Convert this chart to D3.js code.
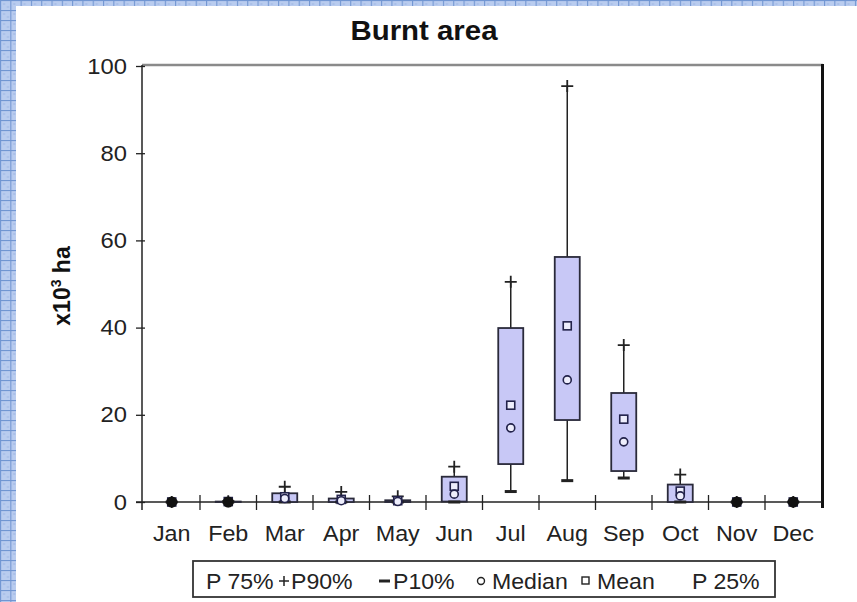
<!DOCTYPE html>
<html><head><meta charset="utf-8">
<script src="https://cdn.jsdelivr.net/npm/d3@7/dist/d3.min.js"></script>
<style>html,body{margin:0;padding:0;background:#fff;}svg{display:block;font-family:"Liberation Sans",Arial,sans-serif;}</style>
</head><body>
<svg id="c" width="857" height="602"></svg>
<script>
const months = ["Jan","Feb","Mar","Apr","May","Jun","Jul","Aug","Sep","Oct","Nov","Dec"];
const p10    = [0, 0, 0,   0,   0,   0,   2.4, 4.9, 5.5, 0,   0, 0];
const p25    = [0, 0, 0,   0,   0,   0.1, 8.7, 18.8,7.1, 0,   0, 0];
const median = [0, 0, 0.8, 0.3, 0.1, 1.8, 17,  28,  13.8,1.4, 0, 0];
const mean   = [0, 0.1, 1.2, 0.6, 0.3, 3.6, 22.2,40.4,19,  2.5, 0, 0];
const p75    = [0, 0.1, 2.0, 0.8, 0.4, 5.8, 39.9,56.2,25,  4.0, 0, 0];
const p90    = [0, 0.2, 3.5, 2.3, 1.3, 8.1, 50.5,95.4,36,  6.3, 0, 0];
const yTicks = [0, 20, 40, 60, 80, 100];
const title = "Burnt area";

const svg = d3.select("#c");
const defs = svg.append("defs");
const pat = defs.append("pattern").attr("id","grid").attr("patternUnits","userSpaceOnUse")
  .attr("width",10.3).attr("height",10);
pat.append("rect").attr("width",10.3).attr("height",10).attr("fill","#b9ccef");
pat.append("rect").attr("x",3).attr("y",3).attr("width",2).attr("height",2).attr("fill","#a9bfe8");
pat.append("rect").attr("x",7).attr("y",6).attr("width",2).attr("height",2).attr("fill","#a9bfe8");
pat.append("line").attr("x1",0.5).attr("x2",0.5).attr("y1",0).attr("y2",10).attr("stroke","#7196d2").attr("stroke-width",1.2);
pat.append("line").attr("x1",0).attr("x2",10.3).attr("y1",0.5).attr("y2",0.5).attr("stroke","#7196d2").attr("stroke-width",1.2);
svg.append("rect").attr("x",0).attr("y",0).attr("width",16).attr("height",602).attr("fill","url(#grid)");
svg.append("rect").attr("x",0).attr("y",0).attr("width",857).attr("height",6).attr("fill","url(#grid)");

const x = d3.scaleBand().domain(months).range([143.5, 821.5]).padding(0);
const y = d3.scaleLinear().domain([0,100]).range([502, 66]);
const bw = 25;
const xc = m => x(m) + x.bandwidth()/2;

function stretch(sel, k){
  sel.each(function(){ const L=this.getComputedTextLength(); d3.select(this).attr("textLength",L*k).attr("lengthAdjust","spacingAndGlyphs"); });
}

svg.append("text").attr("x",424).attr("y",40).attr("text-anchor","middle")
  .attr("font-size",28).attr("font-weight","bold").attr("fill","#111").text(title)
  .call(stretch,1.05);

const yl = svg.append("text").attr("transform","translate(70,286) rotate(-90)")
  .attr("text-anchor","middle").attr("font-size",23).attr("font-weight","bold").attr("fill","#111");
yl.append("tspan").text("x10");
yl.append("tspan").attr("font-size",14).attr("dy",-9).text("3");
yl.append("tspan").attr("dy",9).text(" ha");

svg.append("line").attr("x1",142).attr("x2",823).attr("y1",y(100)-1).attr("y2",y(100)-1)
  .attr("stroke","#8a8a8a").attr("stroke-width",2.5);
svg.append("line").attr("x1",822.5).attr("x2",822.5).attr("y1",y(100)-2).attr("y2",508)
  .attr("stroke","#111").attr("stroke-width",3);

const ya = svg.append("g").attr("transform","translate(142,0)")
  .call(d3.axisLeft(y).tickValues(yTicks).tickSize(6).tickPadding(10));
ya.select(".domain").remove();
ya.selectAll(".tick line").attr("x1",-6).attr("x2",3).attr("stroke","#222").attr("stroke-width",1.3);
ya.selectAll(".tick text").attr("font-size",22).attr("fill","#222")
  .attr("font-family","Liberation Sans, Arial, sans-serif").attr("x",-15).call(stretch,1.08);
svg.append("line").attr("x1",142).attr("x2",142).attr("y1",y(100)-1).attr("y2",510)
  .attr("stroke","#222").attr("stroke-width",1.5);

svg.append("line").attr("x1",136).attr("x2",822).attr("y1",y(0)).attr("y2",y(0))
  .attr("stroke","#222").attr("stroke-width",1.5);
svg.selectAll(".xt").data(months.slice(1)).enter().append("line")
  .attr("x1",d=>x(d)).attr("x2",d=>x(d)).attr("y1",y(0)-7).attr("y2",y(0)+8)
  .attr("stroke","#222").attr("stroke-width",1.3);
svg.selectAll(".xl").data(months).enter().append("text")
  .attr("x",d=>xc(d)).attr("y",541).attr("text-anchor","middle")
  .attr("font-size",22).attr("fill","#222").text(d=>d).call(stretch,1.06);

const g = svg.append("g");
months.forEach((m,i)=>{
  const cx = xc(m);
  g.append("line").attr("x1",cx).attr("x2",cx).attr("y1",y(p75[i])).attr("y2",y(p90[i]))
    .attr("stroke","#222").attr("stroke-width",1.5);
  g.append("line").attr("x1",cx).attr("x2",cx).attr("y1",y(p25[i])).attr("y2",y(p10[i]))
    .attr("stroke","#222").attr("stroke-width",1.5);
  g.append("rect").attr("x",cx-bw/2).attr("width",bw)
    .attr("y",y(p75[i])).attr("height",Math.max(0,y(p25[i])-y(p75[i])))
    .attr("fill","#c8c8f6").attr("stroke","#2a2a3a").attr("stroke-width",1.8);
  g.append("path").attr("d",`M${cx-6},${y(p90[i])}h12M${cx},${y(p90[i])-6}v12`)
    .attr("stroke","#222").attr("stroke-width",1.8).attr("fill","none");
  g.append("line").attr("x1",cx-6).attr("x2",cx+6).attr("y1",y(p10[i])).attr("y2",y(p10[i]))
    .attr("stroke","#222").attr("stroke-width",3);
  g.append("rect").attr("x",cx-4).attr("y",y(mean[i])-4).attr("width",8).attr("height",8)
    .attr("fill","#eeeefc").attr("stroke","#22224a").attr("stroke-width",1.6);
  g.append("circle").attr("cx",cx).attr("cy",y(median[i])).attr("r",4)
    .attr("fill","#eeeefc").attr("stroke","#22224a").attr("stroke-width",1.6);
  if (p75[i] < 0.3) {
    g.append("circle").attr("cx",cx).attr("cy",y(0)).attr("r",5.5).attr("fill","#111");
  }
});

const lg = svg.append("g");
lg.append("rect").attr("x",193).attr("y",561).attr("width",582).attr("height",36)
  .attr("fill","#fff").attr("stroke","#333").attr("stroke-width",1.8);
const legY = 589;
const lt = (xx,t)=>lg.append("text").attr("x",xx).attr("y",legY).attr("font-size",22).attr("fill","#222").text(t).call(stretch,1.05);
lt(206,"P 75%");
lg.append("path").attr("d",`M279,${legY-8}h10M284,${legY-13}v10`).attr("stroke","#222").attr("stroke-width",1.5);
lt(291,"P90%");
lg.append("line").attr("x1",379).attr("x2",390).attr("y1",legY-8).attr("y2",legY-8).attr("stroke","#222").attr("stroke-width",3);
lt(393,"P10%");
lg.append("circle").attr("cx",481).attr("cy",legY-8).attr("r",3.5).attr("fill","#fff").attr("stroke","#222").attr("stroke-width",1.4);
lt(492,"Median");
lg.append("rect").attr("x",582).attr("y",legY-12).attr("width",7).attr("height",7).attr("fill","#fff").attr("stroke","#222").attr("stroke-width",1.4);
lt(597,"Mean");
lt(692,"P 25%");
</script>
</body></html>
